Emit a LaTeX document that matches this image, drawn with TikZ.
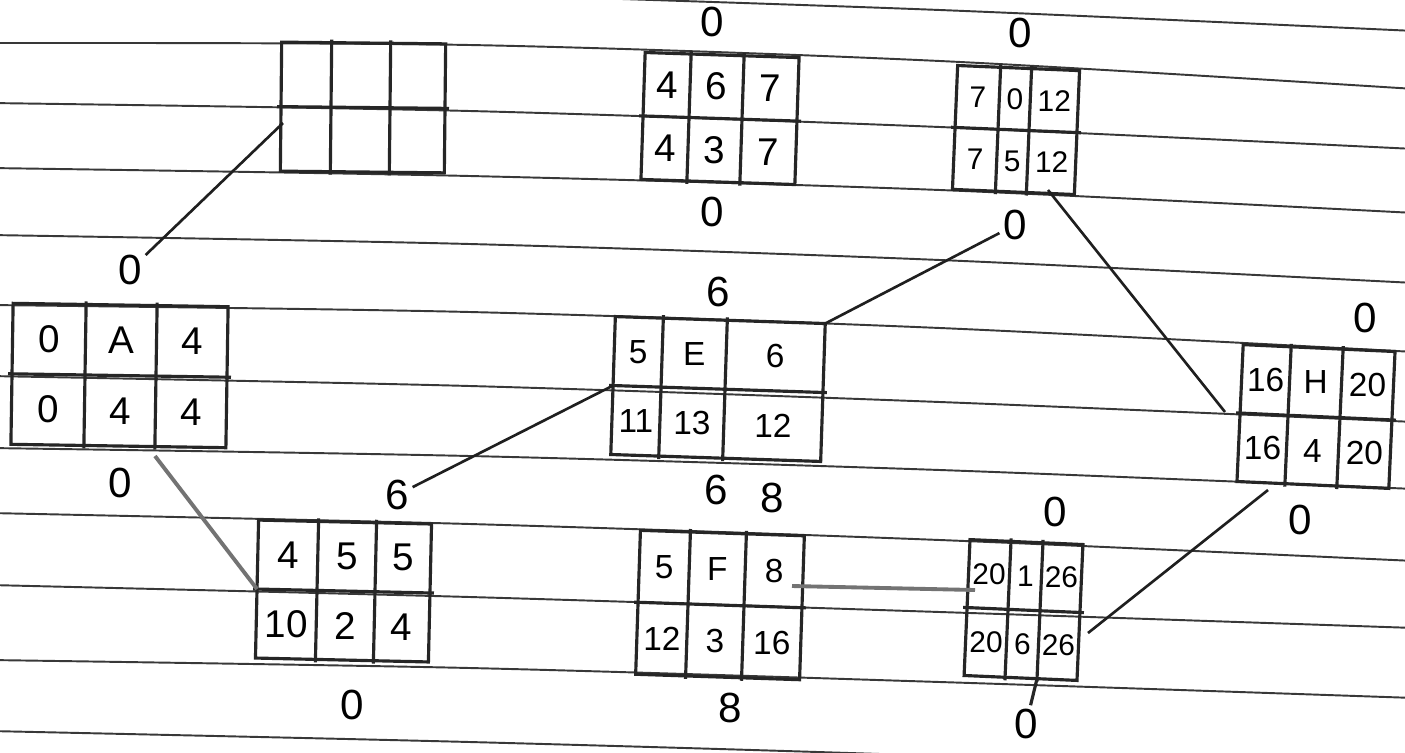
\documentclass[tikz,border=0pt]{standalone}
\usepackage{fontspec}
\setmainfont{Liberation Sans}
\usetikzlibrary{calc}

% one activity box: name, centre x, centre y, tilt, three column widths, height
\newcommand{\actbox}[8]{%
  \pgfmathsetmacro\bw{#5+#6+#7}%
  \pgfmathsetmacro\bwcm{\bw*0.02}%
  \pgfmathsetmacro\bhcm{#8*0.02}%
  \pgfmathsetmacro\bxl{-\bw/2}%
  \pgfmathsetmacro\bxa{\bxl+#5}%
  \pgfmathsetmacro\bxb{\bxa+#6}%
  \pgfmathsetmacro\bxr{\bw/2}%
  \pgfmathsetmacro\byt{-#8/2}%
  \pgfmathsetmacro\byb{#8/2}%
  \node[boxnode, minimum width=\bwcm cm, minimum height=\bhcm cm, rotate=#4] (#1) at (#2,#3) {};
  \begin{scope}[shift={(#2,#3)}, rotate=#4]
    \draw[boxline] (\bxl-4,0) -- (\bxr+4,0);
    \draw[boxline] (\bxa,\byt-3) -- (\bxa,\byb+3) (\bxb,\byt-3) -- (\bxb,\byb+3);
    \coordinate (#1-t1) at (\bxa,\byt);
    \coordinate (#1-t2) at (\bxb,\byt);
    \coordinate (#1-b1) at (\bxa,\byb);
    \coordinate (#1-b2) at (\bxb,\byb);
    \coordinate (#1-c1) at ({(\bxl+\bxa)/2},{\byt/2});
    \coordinate (#1-c2) at ({(\bxa+\bxb)/2},{\byt/2});
    \coordinate (#1-c3) at ({(\bxb+\bxr)/2},{\byt/2});
    \coordinate (#1-c4) at ({(\bxl+\bxa)/2},{\byb/2});
    \coordinate (#1-c5) at ({(\bxa+\bxb)/2},{\byb/2});
    \coordinate (#1-c6) at ({(\bxb+\bxr)/2},{\byb/2});
  \end{scope}}

% the six entries of a box
\newcommand{\cells}[8]{%
  \node[#2] (#1-1) at (#1-c1) {#3};
  \node[#2] (#1-2) at (#1-c2) {#4};
  \node[#2] (#1-3) at (#1-c3) {#5};
  \node[#2] (#1-4) at (#1-c4) {#6};
  \node[#2] (#1-5) at (#1-c5) {#7};
  \node[#2] (#1-6) at (#1-c6) {#8};}

\begin{document}
\begin{tikzpicture}[
  x=0.02cm, y=-0.02cm,
  rule/.style={black!78, line width=1.1pt},
  boxnode/.style={draw=black!85, line width=1.8pt, inner sep=0pt, outer sep=0pt},
  boxline/.style={black!85, line width=1.8pt},
  link/.style={black!88, line width=1.5pt},
  faint/.style={black!55, line width=2.2pt},
  num/.style={font=\fontsize{22}{24}\selectfont, inner sep=1pt},
  mid/.style={font=\fontsize{19}{21}\selectfont, inner sep=1pt},
  tiny/.style={font=\fontsize{17}{19}\selectfont, inner sep=1pt},
  lab/.style={font=\fontsize{24}{26}\selectfont, inner sep=2pt}
]
  \fill[white] (0,0) rectangle (1405,752);
  \useasboundingbox (0,0) rectangle (1405,752);

  \begin{scope}
    \clip (0,0) rectangle (1405,752);
    \foreach \ya/\yb/\yc/\yd in {-22/-6/10/31, 43/45/61/89, 103/111/127/149,
        168/176/190/213, 235/244/260/283, 305/312/328/352, 376/386/402/422,
        448/456/470/489, 513/524/540/561, 585/597/612/628, 660/668/682/698,
        731/742/756/775}
      \draw[rule] plot[smooth] coordinates {(-10,\ya) (470,\yb) (940,\yc) (1415,\yd)};
  \end{scope}

  \actbox{blank}{363}{107.5}{-0.6}{50}{59}{55}{129}
  \actbox{A}{119.5}{375.5}{-0.9}{73}{71}{71}{141}
  \actbox{six}{720}{118.5}{-1.9}{46}{53}{55}{127}
  \actbox{zero}{1016}{130}{-2.4}{43}{31}{48}{124}
  \actbox{E}{718}{389}{-1.9}{48}{64}{98}{138}
  \actbox{five}{343.5}{591}{-1.3}{60}{58}{55}{138}
  \actbox{F}{720}{605}{-1.9}{50}{56}{58}{144}
  \actbox{one}{1023.5}{610}{-2.5}{41}{32}{40}{136}
  \actbox{H}{1316}{416.5}{-2.6}{48}{52}{52}{137}

  \cells{A}{num}{0}{A}{4}{0}{4}{4}
  \cells{six}{num}{4}{6}{7}{4}{3}{7}
  \cells{zero}{tiny}{7}{0}{12}{7}{5}{12}
  \cells{E}{mid}{5}{E}{6}{11}{13}{12}
  \cells{five}{num}{4}{5}{5}{10}{2}{4}
  \cells{F}{mid}{5}{F}{8}{12}{3}{16}
  \cells{one}{tiny}{20}{1}{26}{20}{6}{26}
  \cells{H}{mid}{16}{H}{20}{16}{4}{20}

  \node[lab] (A-up) at (130,270) {0};
  \node[lab] (A-dn) at (120,483) {0};
  \node[lab] (six-up) at (712,22) {0};
  \node[lab] (six-dn) at (712,212) {0};
  \node[lab] (zero-up) at (1020,33) {0};
  \node[lab] (zero-dn) at (1015,225) {0};
  \node[lab] (E-up) at (718,292) {6};
  \node[lab] (E-dn) at (716,490) {6};
  \node[lab] (five-up) at (397,495) {6};
  \node[lab] (five-dn) at (352,705) {0};
  \node[lab] (F-up) at (772,498) {8};
  \node[lab] (F-dn) at (730,708) {8};
  \node[lab] (one-up) at (1055,512) {0};
  \node[lab] (one-dn) at (1026,724) {0};
  \node[lab] (H-up) at (1365,318) {0};
  \node[lab] (H-dn) at (1300,520) {0};

  \coordinate (blank-in) at (283,123);
  \coordinate (A-out) at (155,456);
  \coordinate (zero-out) at (1048,190);
  \coordinate (H-left) at (1225,412);
  \coordinate (F-out) at (792,586);
  \coordinate (one-in) at (975,590);
  \coordinate (one-out) at (1088,633);
  \coordinate (H-in) at (1268,490);

  \draw[link] (A-up) -- (blank-in);
  \draw[faint] (A-out) -- (five.west);
  \draw[link] (five-up) -- (E.west);
  \draw[link] (E.north east) -- (zero-dn);
  \draw[link] (zero-out) -- (H-left);
  \draw[faint] (F-out) -- (one-in);
  \draw[link] (one-out) -- (H-in);
  \draw[boxline] (one-b2) -- (one-dn);
\end{tikzpicture}
\end{document}
